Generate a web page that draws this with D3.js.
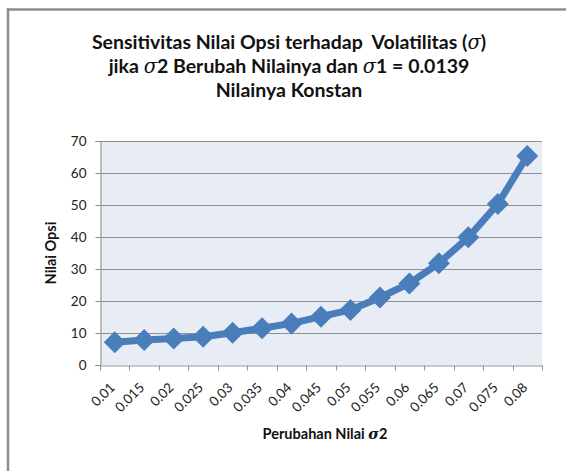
<!DOCTYPE html>
<html><head><meta charset="utf-8">
<script src="https://cdn.jsdelivr.net/npm/d3@7"></script>
<style>
html,body{margin:0;padding:0;background:#fff;}
svg{display:block;}
</style></head>
<body>
<svg id="c" width="566" height="471"></svg>
<script>
const categories = ["0.01","0.015","0.02","0.025","0.03","0.035","0.04","0.045","0.05","0.055","0.06","0.065","0.07","0.075","0.08"];
const values = [7.1, 7.8, 8.3, 8.8, 10.1, 11.5, 13.0, 15.1, 17.2, 21.1, 25.5, 31.8, 39.9, 50.3, 65.3];
const yTicks = [0,10,20,30,40,50,60,70];
// title lines split into [text, isSigma] parts
const titleLines = [
  [["Sensitivitas Nilai Opsi terhadap  Volatilitas (",0],["\u03C3",1],[")",0]],
  [["jika ",0],["\u03C3",1],["2 Berubah Nilainya dan ",0],["\u03C3",1],["1 = 0.0139",0]],
  [["Nilainya Konstan",0]]
];

const svg = d3.select("#c");
const font = "Lato, 'Open Sans', sans-serif";
const m = {left:100, right:542, top:141, bottom:365};

// frame
svg.append("line").attr("x1",7).attr("x2",566).attr("y1",9.5).attr("y2",9.5).attr("stroke","#8c8c8c").attr("stroke-width",2.5);
svg.append("line").attr("x1",8).attr("x2",8).attr("y1",8.5).attr("y2",471).attr("stroke","#8c8c8c").attr("stroke-width",2.5);

const x = d3.scaleBand().domain(categories).range([m.left, m.right]);
const y = d3.scaleLinear().domain([0,70]).range([m.bottom, m.top]);

svg.append("rect").attr("x",m.left).attr("y",m.top).attr("width",m.right-m.left).attr("height",m.bottom-m.top).attr("fill","#e8ecf4");

// gridlines
svg.append("g").selectAll("line").data(yTicks.filter(d=>d>0)).join("line")
  .attr("x1",m.left).attr("x2",m.right).attr("y1",d=>Math.round(y(d))+0.5).attr("y2",d=>Math.round(y(d))+0.5)
  .attr("stroke","#8f8f8f").attr("stroke-width",1);

// y axis
const ya = svg.append("g").attr("transform",`translate(${m.left+0.5},0)`)
  .call(d3.axisLeft(y).tickValues(yTicks).tickSize(5).tickPadding(9).tickFormat(d3.format("d")));
ya.select(".domain").attr("stroke","#8f8f8f");
ya.selectAll(".tick line").attr("stroke","#8f8f8f");
ya.selectAll("text").attr("font-family",font).attr("font-size",13.5).attr("fill","#222");

// x axis
const xa = svg.append("g").attr("transform",`translate(0,${m.bottom+0.5})`)
  .call(d3.axisBottom(x).tickSize(0).tickFormat(""));
xa.select(".domain").attr("stroke","#8f8f8f");
xa.selectAll(".tick").remove();
const bounds = categories.map(c=>x(c)).concat([m.right]);
xa.selectAll("line.tk").data(bounds).join("line").attr("class","tk")
  .attr("x1",d=>Math.round(d)+0.5).attr("x2",d=>Math.round(d)+0.5).attr("y1",0).attr("y2",5).attr("stroke","#8f8f8f");
xa.selectAll("text.lb").data(categories).join("text").attr("class","lb")
  .attr("transform",d=>`translate(${x(d)+x.bandwidth()/2+1},${23}) rotate(-45)`)
  .attr("text-anchor","end").attr("font-family",font).attr("font-size",13.5).attr("fill","#222").text(d=>d);

// line
const pts = categories.map((c,i)=>[x(c)+x.bandwidth()/2, y(values[i])]);
svg.append("path").attr("d",d3.line()(pts)).attr("fill","none").attr("stroke","#4a7ebb").attr("stroke-width",7).attr("stroke-linejoin","round");
svg.append("g").selectAll("path").data(pts).join("path")
  .attr("transform",d=>`translate(${d[0]},${d[1]})`)
  .attr("d","M0,-11L11,0L0,11L-11,0Z").attr("fill","#4a7ebb");

// title
const tt = svg.append("g").selectAll("text").data(titleLines).join("text")
  .attr("x",289).attr("y",(d,i)=>49+i*24).attr("text-anchor","middle")
  .attr("font-family",font).attr("font-weight","bold").attr("font-size",19.5).attr("fill","#111")
  .attr("xml:space","preserve").style("white-space","pre");
tt.selectAll("tspan").data(d=>d).join("tspan")
  .attr("font-style",d=>d[1]?"italic":null)
  .attr("font-family",d=>d[1]?"'DejaVu Serif', serif":null)
  .attr("font-weight",d=>d[1]?"normal":null)
  .text(d=>d[0]);

// axis titles
const xt = svg.append("text").attr("x",325).attr("y",439).attr("text-anchor","middle")
  .attr("font-family",font).attr("font-weight","bold").attr("font-size",14.5).attr("fill","#111")
  .attr("xml:space","preserve").style("white-space","pre");
xt.append("tspan").text("Perubahan Nilai ");
xt.append("tspan").attr("font-style","italic").attr("font-family","'DejaVu Serif', serif").text("\u03C3");
xt.append("tspan").text("2");
svg.append("text").attr("transform","translate(56,253) rotate(-90)").attr("text-anchor","middle")
  .attr("font-family",font).attr("font-weight","bold").attr("font-size",14.5).attr("fill","#111").text("Nilai Opsi");
</script>
</body></html>
